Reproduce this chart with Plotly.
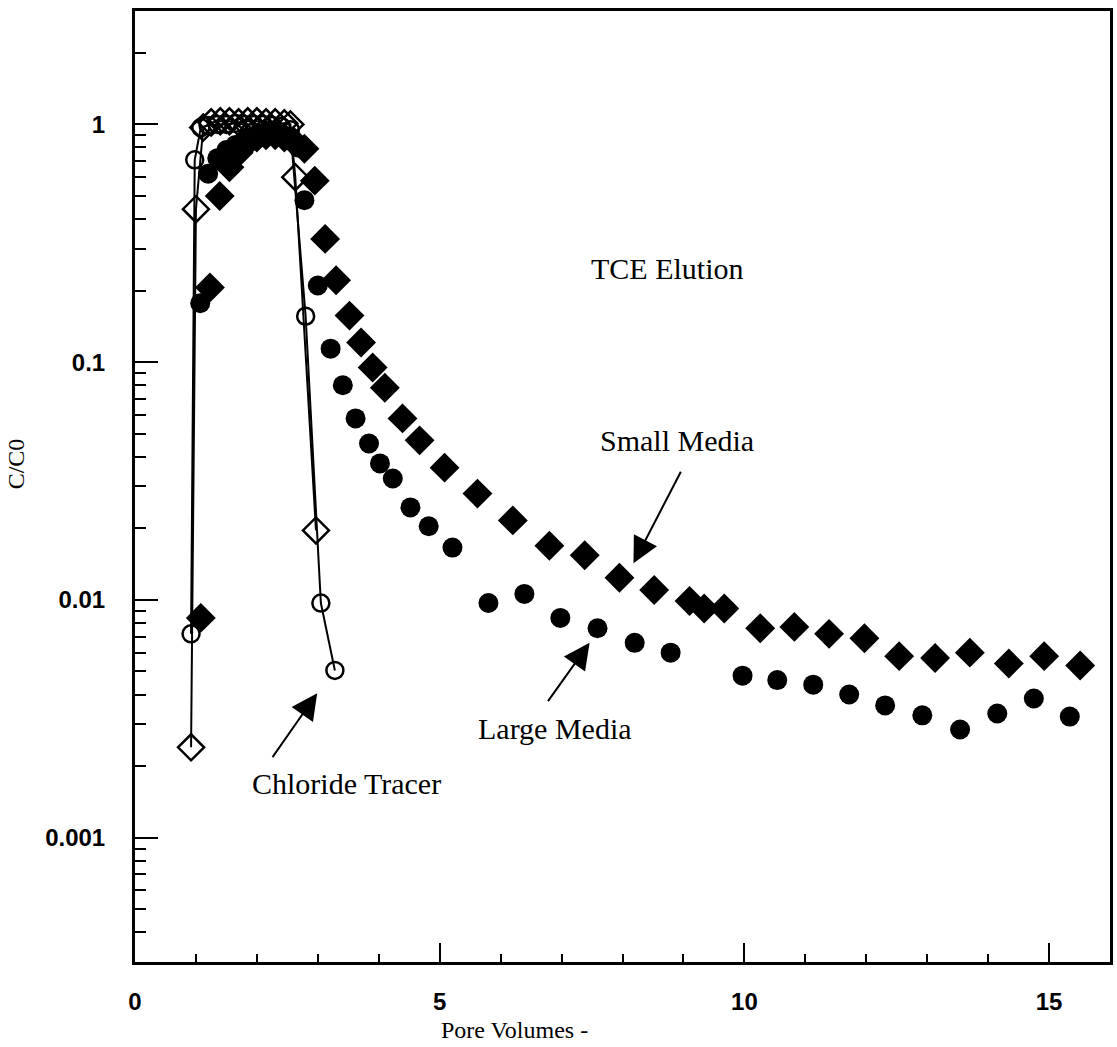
import math
import plotly.graph_objects as go

# ---------------- data ----------------
# Chloride tracer, open circles
tracer_circle_x = [0.92, 0.98, 1.08, 1.2, 1.35, 1.5, 1.65, 1.8, 1.95, 2.1, 2.25, 2.4, 2.55, 2.8, 3.05, 3.28]
tracer_circle_y = [0.0072, 0.71, 0.97, 0.99, 1.0, 1.0, 1.01, 1.0, 1.0, 1.0, 0.99, 0.98, 0.95, 0.156, 0.0097, 0.00505]

# Chloride tracer, open diamonds
tracer_diamond_x = [0.92, 1.0, 1.12, 1.25, 1.4, 1.55, 1.7, 1.85, 2.0, 2.15, 2.3, 2.45, 2.55, 2.63, 2.97]
tracer_diamond_y = [0.0024, 0.44, 0.97, 1.02, 1.03, 1.03, 1.02, 1.03, 1.03, 1.02, 1.02, 1.01, 1.0, 0.60, 0.0196]

# TCE elution, small media (filled diamonds)
small_x = [1.08, 1.23, 1.39, 1.55, 1.7, 1.85, 2.0, 2.15, 2.3, 2.45, 2.6, 2.78, 2.95, 3.12, 3.30,
           3.52, 3.71, 3.90, 4.10, 4.39, 4.67, 5.08, 5.62, 6.20, 6.80, 7.38, 7.95, 8.52, 9.10,
           9.34, 9.67, 10.26, 10.82, 11.39, 11.97, 12.54, 13.13, 13.70, 14.34, 14.92, 15.51]
small_y = [0.0084, 0.206, 0.50, 0.66, 0.76, 0.84, 0.88, 0.9, 0.9, 0.88, 0.85, 0.79, 0.58, 0.33, 0.221,
           0.157, 0.121, 0.095, 0.078, 0.058, 0.0469, 0.036, 0.028, 0.0216, 0.0169, 0.0154, 0.0124, 0.011, 0.0099,
           0.0092, 0.0092, 0.0076, 0.0077, 0.0072, 0.0069, 0.0058, 0.0057, 0.0060, 0.0054, 0.0058, 0.0053]

# TCE elution, large media (filled circles)
large_x = [1.07, 1.2, 1.35, 1.5, 1.65, 1.8, 1.95, 2.1, 2.25, 2.4, 2.55, 2.68, 2.78, 3.0,
           3.21, 3.41, 3.62, 3.84, 4.02, 4.23, 4.52, 4.82, 5.21, 5.80, 6.39, 6.98, 7.59, 8.20,
           8.79, 9.97, 10.54, 11.13, 11.72, 12.31, 12.92, 13.54, 14.15, 14.75, 15.34]
large_y = [0.177, 0.62, 0.72, 0.78, 0.82, 0.86, 0.89, 0.91, 0.92, 0.91, 0.88, 0.8, 0.48, 0.21,
           0.114, 0.080, 0.058, 0.0455, 0.0375, 0.0324, 0.0245, 0.0204, 0.0166, 0.0097, 0.0106, 0.0084, 0.0076, 0.0066,
           0.0060, 0.0048, 0.0046, 0.0044, 0.0040, 0.0036, 0.00327, 0.00285, 0.00333, 0.00385, 0.00323]

x_tick_vals = [0, 5, 10, 15]
y_tick_vals = [0.001, 0.01, 0.1, 1]
y_tick_text = ["0.001", "0.01", "0.1", "1"]

# callout arrows: label, tip (x, C/C0), tail (x, C/C0)
arrow_labels = ["Small Media", "Large Media", "Chloride Tracer"]
arrow_tip_x = [8.18, 7.46, 2.99]
arrow_tip_y = [0.01426, 0.0066, 0.00405]
arrow_tail_x = [8.97, 6.76, 2.24]
arrow_tail_y = [0.0351, 0.0037, 0.00215]

# ---------------- figure ----------------
W, H = 1117, 1047
ML, MR, MT, MB = 135, 4, 11, 85
PW, PH = W - ML - MR, H - MT - MB

def px(xp):
    return (xp - ML) / PW

def py(yp):
    return (H - MB - yp) / PH

serif = "Liberation Serif, Times New Roman, serif"
sans = "Liberation Sans, Arial, sans-serif"

fig = go.Figure()

fig.add_trace(go.Scatter(
    x=large_x, y=large_y, mode="markers", name="Large Media",
    marker=dict(symbol="circle", size=20, color="black", line=dict(width=0)),
))
fig.add_trace(go.Scatter(
    x=small_x, y=small_y, mode="markers", name="Small Media",
    marker=dict(symbol="diamond", size=23, color="black", line=dict(width=0)),
))
fig.add_trace(go.Scatter(
    x=tracer_diamond_x, y=tracer_diamond_y, mode="lines+markers", name="Chloride Tracer (diamonds)",
    line=dict(color="black", width=2),
    marker=dict(symbol="diamond-open", size=20, color="black", line=dict(width=2.5, color="black")),
))
fig.add_trace(go.Scatter(
    x=tracer_circle_x, y=tracer_circle_y, mode="lines+markers", name="Chloride Tracer (circles)",
    line=dict(color="black", width=2),
    marker=dict(symbol="circle-open", size=17, color="black", line=dict(width=2.5, color="black")),
))

def label(text, xp, yp, size, angle=0):
    return dict(text=text, x=px(xp), y=py(yp), xref="paper", yref="paper",
                xanchor="center", yanchor="middle", textangle=angle,
                showarrow=False, font=dict(family=serif, size=size, color="black"))

annotations = [
    label("TCE Elution", 669, 268, 30),
    label("Small Media", 679, 440, 30),
    label("Large Media", 556, 728, 30),
    label("Chloride Tracer", 347, 783, 30),
    label("Pore Volumes -", 516, 1030, 24),
    label("C/C0", 16, 464, 24, -90),
]

for i in range(len(arrow_labels)):
    annotations.append(dict(
        x=arrow_tip_x[i], y=math.log10(arrow_tip_y[i]),
        ax=arrow_tail_x[i], ay=math.log10(arrow_tail_y[i]),
        xref="x", yref="y", axref="x", ayref="y",
        text="", showarrow=True, arrowhead=2, arrowsize=2.6, arrowwidth=2, arrowcolor="black",
    ))

fig.update_layout(
    width=W, height=H,
    margin=dict(l=ML, r=MR, t=MT, b=MB),
    paper_bgcolor="white", plot_bgcolor="white",
    showlegend=False,
    annotations=annotations,
    xaxis=dict(
        range=[0, 16], tickvals=x_tick_vals, ticks="inside", ticklen=19, tickwidth=2, tickcolor="black",
        showline=True, linewidth=3, linecolor="black", mirror=True, showgrid=False, zeroline=False,
        tickfont=dict(family=sans, size=24, color="black", weight="bold"), ticklabelstandoff=16,
        minor=dict(dtick=1, ticks="inside", ticklen=8, tickwidth=2, tickcolor="black", showgrid=False),
    ),
    yaxis=dict(
        type="log", range=[-3.523, 0.477], tickvals=y_tick_vals, ticktext=y_tick_text,
        ticks="inside", ticklen=23, tickwidth=2, tickcolor="black",
        showline=True, linewidth=3, linecolor="black", mirror=True, showgrid=False, zeroline=False,
        tickfont=dict(family=sans, size=24, color="black", weight="bold"), ticklabelstandoff=22,
        minor=dict(dtick="D1", ticks="inside", ticklen=11, tickwidth=2, tickcolor="black", showgrid=False),
    ),
)

fig.write_html("out.html")
